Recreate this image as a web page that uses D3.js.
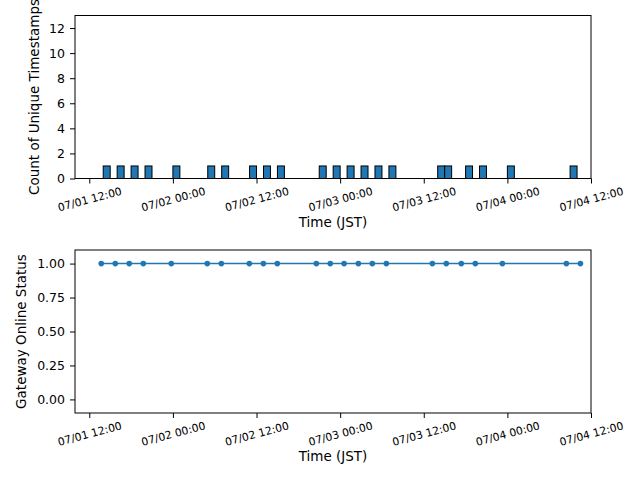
<!DOCTYPE html>
<html>
<head>
<meta charset="utf-8">
<script src="https://cdn.jsdelivr.net/npm/d3@7"></script>
<style>
  body { margin: 0; background: #fff; }
  svg { display: block; font-family: "DejaVu Sans", sans-serif; }
</style>
</head>
<body>
<svg id="chart" width="640" height="480"></svg>
<script>
// hourly bins (start time) that hold one unique timestamp
const binStarts = [
  "2024-07-01 14:00", "2024-07-01 16:00", "2024-07-01 18:00", "2024-07-01 20:00",
  "2024-07-02 00:00", "2024-07-02 05:00", "2024-07-02 07:00", "2024-07-02 11:00",
  "2024-07-02 13:00", "2024-07-02 15:00", "2024-07-02 21:00", "2024-07-02 23:00",
  "2024-07-03 01:00", "2024-07-03 03:00", "2024-07-03 05:00", "2024-07-03 07:00",
  "2024-07-03 14:00", "2024-07-03 15:00", "2024-07-03 18:00", "2024-07-03 20:00",
  "2024-07-04 00:00", "2024-07-04 09:00"
];
const binCounts = [1,1,1,1,1,1,1,1,1,1,1,1,1,1,1,1,1,1,1,1,1,1];
const binRange = ["2024-07-01 11:00", "2024-07-04 10:00"];

// gateway status samples
const statusTimes = [
  "2024-07-01 13:43", "2024-07-01 15:44", "2024-07-01 17:44", "2024-07-01 19:45",
  "2024-07-01 23:46", "2024-07-02 04:56", "2024-07-02 06:57", "2024-07-02 10:58",
  "2024-07-02 12:59", "2024-07-02 14:59", "2024-07-02 20:35", "2024-07-02 22:35",
  "2024-07-03 00:34", "2024-07-03 02:37", "2024-07-03 04:37", "2024-07-03 06:38",
  "2024-07-03 13:14", "2024-07-03 15:14", "2024-07-03 17:23", "2024-07-03 19:24",
  "2024-07-03 23:17", "2024-07-04 08:28", "2024-07-04 10:29"
];
const statusValues = [1,1,1,1,1,1,1,1,1,1,1,1,1,1,1,1,1,1,1,1,1,1,1];

const xDomain = ["2024-07-01 09:57", "2024-07-04 12:00"];
const xTicks = ["2024-07-01 12:00", "2024-07-02 00:00", "2024-07-02 12:00", "2024-07-03 00:00",
                "2024-07-03 12:00", "2024-07-04 00:00", "2024-07-04 12:00"];
const countTicks = [0, 2, 4, 6, 8, 10, 12];
const statusTicks = [0, 0.25, 0.5, 0.75, 1];

const parse = d3.timeParse("%Y-%m-%d %H:%M");
const fmt = d3.timeFormat("%m/%d %H:%M");

const svg = d3.select("#chart");
const left = 75, right = 591;
const blue = "#1f77b4";
const font = "DejaVu Sans";

const x = d3.scaleTime().domain(xDomain.map(parse)).range([left, right]);

function xAxis(g, y0) {
  const ax = g.append("g").attr("transform", `translate(0,${y0})`)
    .call(d3.axisBottom(x).tickValues(xTicks.map(parse)).tickSize(5).tickFormat(""));
  ax.attr("font-family", font);
  ax.select(".domain").remove();
  ax.selectAll(".tick line").attr("stroke", "#000");
  ax.selectAll(".tick").append("text")
    .attr("fill", "#000")
    .attr("font-family", font)
    .attr("font-size", "10.8px")
    .attr("text-anchor", "middle")
    .attr("dominant-baseline", "central")
    .attr("transform", "translate(0,21) rotate(-15)")
    .text(d => fmt(d));
  g.append("text")
    .attr("x", (left + right) / 2).attr("y", y0 + 48)
    .attr("text-anchor", "middle").attr("font-size", "13.5px")
    .attr("font-family", font)
    .text("Time (JST)");
}

function yAxis(g, y, ticks, format) {
  const ax = g.append("g").attr("transform", `translate(${left},0)`)
    .call(d3.axisLeft(y).tickValues(ticks).tickSize(5).tickPadding(5).tickFormat(format));
  ax.attr("font-family", font);
  ax.select(".domain").remove();
  ax.selectAll(".tick line").attr("stroke", "#000");
  ax.selectAll(".tick text").attr("fill", "#000").attr("font-size", "12.5px");
}

// ---- top: histogram ----
const top1 = 15.5, bot1 = 178.5;
const y1 = d3.scaleLinear().domain([0, 13]).range([bot1, top1]);
const g1 = svg.append("g");

g1.append("line")
  .attr("x1", x(parse(binRange[0]))).attr("x2", x(parse(binRange[1])))
  .attr("y1", y1(0)).attr("y2", y1(0))
  .attr("stroke", "#999").attr("stroke-width", 1);

const bins = binStarts.map((s, i) => ({start: parse(s), count: binCounts[i]}));
g1.selectAll("rect.bar")
  .data(bins)
  .join("rect")
  .attr("class", "bar")
  .attr("x", d => x(d.start))
  .attr("width", d => x(d3.timeHour.offset(d.start, 1)) - x(d.start))
  .attr("y", d => y1(d.count))
  .attr("height", d => y1(0) - y1(d.count))
  .attr("fill", blue)
  .attr("stroke", "#000")
  .attr("stroke-width", 1);

yAxis(g1, y1, countTicks, d3.format("d"));
xAxis(g1, bot1);
g1.append("rect").attr("x", left).attr("y", top1)
  .attr("width", right - left).attr("height", bot1 - top1)
  .attr("fill", "none").attr("stroke", "#000").attr("stroke-width", 1);
g1.append("text")
  .attr("transform", `translate(34,${(top1 + bot1) / 2}) rotate(-90)`)
  .attr("text-anchor", "middle").attr("dominant-baseline", "central")
  .attr("font-size", "13.5px").attr("font-family", font)
  .text("Count of Unique Timestamps");

// ---- bottom: status line ----
const top2 = 250, bot2 = 413;
const y2 = d3.scaleLinear().domain([-0.1, 1.1]).range([bot2, top2]);
const g2 = svg.append("g");
const pts = statusTimes.map((s, i) => ({t: parse(s), v: statusValues[i]}));

g2.append("path")
  .datum(pts)
  .attr("fill", "none")
  .attr("stroke", blue)
  .attr("stroke-width", 1.5)
  .attr("d", d3.line().x(d => x(d.t)).y(d => y2(d.v)));

g2.selectAll("circle")
  .data(pts)
  .join("circle")
  .attr("cx", d => x(d.t))
  .attr("cy", d => y2(d.v))
  .attr("r", 2.8)
  .attr("fill", blue);

yAxis(g2, y2, statusTicks, d3.format(".2f"));
xAxis(g2, bot2);
g2.append("rect").attr("x", left).attr("y", top2)
  .attr("width", right - left).attr("height", bot2 - top2)
  .attr("fill", "none").attr("stroke", "#000").attr("stroke-width", 1);
g2.append("text")
  .attr("transform", `translate(21,${(top2 + bot2) / 2}) rotate(-90)`)
  .attr("text-anchor", "middle").attr("dominant-baseline", "central")
  .attr("font-size", "13.5px").attr("font-family", font)
  .text("Gateway Online Status");
</script>
</body>
</html>
